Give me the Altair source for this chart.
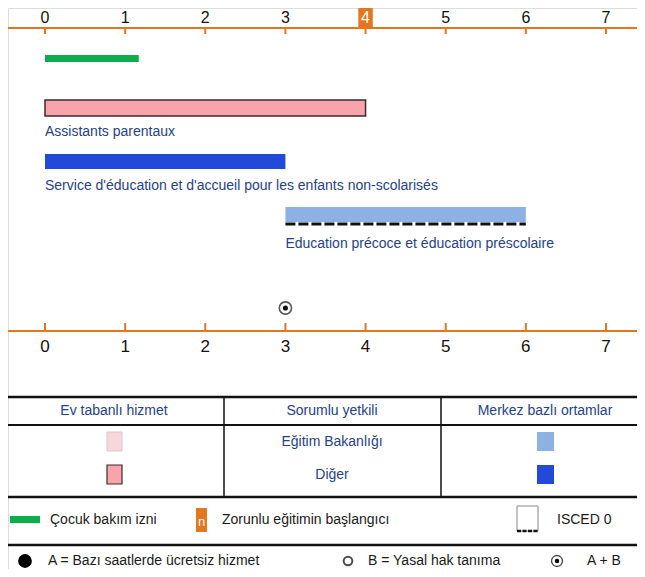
import altair as alt
import pandas as pd

# ---------------- data ----------------
ages = [0, 1, 2, 3, 4, 5, 6, 7]
compulsory_age = [4]

services = ["Çocuk bakım izni", "Assistants parentaux",
            "Service d'éducation et d'accueil pour les enfants non-scolarisés",
            "Education précoce et éducation préscolaire"]
svc_start = [0, 0, 0, 3]
svc_end = [1.17, 4, 3, 6]
svc_labelled = [False, True, True, True]
isced0_start = [3]
isced0_end = [6]
free_marker_age = [3]

table_headers = ["Ev tabanlı hizmet", "Sorumlu yetkili", "Merkez bazlı ortamlar"]
authorities = ["Eğitim Bakanlığı", "Diğer"]
legend_row1 = ["Çocuk bakım izni", "Zorunlu eğitimin başlangıcı", "ISCED 0"]
legend_row2 = ["A = Bazı saatlerde ücretsiz hizmet", "B = Yasal hak tanıma", "A + B"]

# ---------------- layout / style ----------------
W, H = 629, 561
PPY = 80.14          # pixels per year
X0 = 37              # pixel of age 0
XDOM = [-X0 / PPY, (W - X0) / PPY]
FONT = "Liberation Sans"
ORANGE = "#e3761e"
NAVY = "#25428a"

svc_fill = ["#0bae4a", "#f9a3ab", "#2249d8", "#8db1e3"]
svc_stroke = ["#0bae4a", "#3a2d2d", "#2249d8", "#8db1e3"]
svc_sw = [0, 1.5, 0, 0]
svc_top = [47, 92, 146, 199]
svc_bot = [54, 108, 161, 214]
svc_label_y = [0, 124, 178, 236]

TOP_AXIS_Y, BOT_AXIS_Y = 20, 323
TOP_LABEL_Y, BOT_LABEL_Y = 10, 339

xs = alt.Scale(domain=XDOM, nice=False, zero=False)


def X(f):
    return alt.X(f, type="quantitative", scale=xs, axis=None)


def PX(f):
    return alt.X(f, type="quantitative", scale=None, axis=None)


def PY(f):
    return alt.Y(f, type="quantitative", scale=None, axis=None)


one = pd.DataFrame({"a": [0]})
layers = []

# ---- axes (top & bottom) ----
for ay, ly, tdir, fs in [(TOP_AXIS_Y, TOP_LABEL_Y, 6, 16), (BOT_AXIS_Y, BOT_LABEL_Y, -8, 17)]:
    layers.append(alt.Chart(one).mark_rule(color=ORANGE, strokeWidth=2).encode(
        x=alt.value(0), x2=alt.value(W), y=alt.value(ay)))
    tdf = pd.DataFrame({"age": ages})
    layers.append(alt.Chart(tdf).mark_rule(color=ORANGE, strokeWidth=2).encode(
        x=X("age"), y=alt.value(ay), y2=alt.value(ay + tdir)))
    layers.append(alt.Chart(tdf).mark_text(font=FONT, fontSize=fs, color="#111111",
                                            baseline="middle", align="center").encode(
        x=X("age"), y=alt.value(ly), text=alt.Text("age:Q")))

# compulsory education highlight on top axis
cdf = pd.DataFrame({"age": compulsory_age})
layers.append(alt.Chart(cdf).transform_calculate(a0="datum.age - 0.09", a1="datum.age + 0.09").mark_rect(
    color=ORANGE).encode(x=X("a0"), x2=alt.X2("a1"), y=alt.value(0), y2=alt.value(TOP_AXIS_Y + 1)))
layers.append(alt.Chart(cdf).mark_text(font=FONT, fontSize=16, color="white",
                                        baseline="middle", align="center").encode(
    x=X("age"), y=alt.value(TOP_LABEL_Y), text=alt.Text("age:Q")))

# ---- service bars ----
sdf = pd.DataFrame({"name": services, "s": svc_start, "e": svc_end, "fill": svc_fill,
                    "stroke": svc_stroke, "sw": svc_sw, "top": svc_top, "bot": svc_bot,
                    "ly": svc_label_y, "lab": svc_labelled})
layers.append(alt.Chart(sdf).mark_rect().encode(
    x=X("s"), x2=alt.X2("e"), y=PY("top"), y2=alt.Y2("bot"),
    fill=alt.Color("fill:N", scale=None), stroke=alt.Color("stroke:N", scale=None),
    strokeWidth=alt.StrokeWidth("sw:Q", scale=None)))
layers.append(alt.Chart(sdf).transform_filter("datum.lab").mark_text(
    font=FONT, fontSize=14, color=NAVY, align="left", baseline="middle").encode(
    x=X("s"), y=PY("ly"), text="name:N"))

# ISCED 0 dashed line
idf = pd.DataFrame({"s": isced0_start, "e": isced0_end})
layers.append(alt.Chart(idf).mark_rule(color="#111111", strokeWidth=3, strokeDash=[10, 3]).encode(
    x=X("s"), x2=alt.X2("e"), y=alt.value(216)))

# free access marker A+B
mdf = pd.DataFrame({"age": free_marker_age})
layers.append(alt.Chart(mdf).mark_point(shape="circle", filled=False, color="#111111",
                                         strokeWidth=1.6, size=150).encode(
    x=X("age"), y=alt.value(300)))
layers.append(alt.Chart(mdf).mark_point(shape="circle", filled=True, color="#111111",
                                         opacity=1, size=26).encode(
    x=X("age"), y=alt.value(300)))

# ---------------- legend table ----------------
hlines = pd.DataFrame({"y": [389, 417, 489, 537], "w": [2.5, 2, 2.5, 2.5]})
layers.append(alt.Chart(hlines).mark_rule(color="#111111").encode(
    x=alt.value(0), x2=alt.value(W), y=PY("y"), strokeWidth=alt.StrokeWidth("w:Q", scale=None)))
layers.append(alt.Chart(one).mark_rule(color="#999999", strokeWidth=1.5).encode(
    x=alt.value(0), x2=alt.value(W), y=alt.value(566)))
vlines = pd.DataFrame({"x": [216, 433]})
layers.append(alt.Chart(vlines).mark_rule(color="#111111", strokeWidth=1.5).encode(
    x=PX("x"), y=alt.value(389), y2=alt.value(489)))

hdf = pd.DataFrame({"t": table_headers, "x": [106, 324, 537]})
layers.append(alt.Chart(hdf).mark_text(font=FONT, fontSize=14, color=NAVY, baseline="middle").encode(
    x=PX("x"), y=alt.value(403), text="t:N"))

adf = pd.DataFrame({"t": authorities, "y": [434, 467]})
layers.append(alt.Chart(adf).mark_text(font=FONT, fontSize=14, color=NAVY, baseline="middle").encode(
    x=alt.value(324), y=PY("y"), text="t:N"))

swatch = pd.DataFrame({
    "x0": [99, 99, 529, 529], "x1": [114, 114, 546, 546],
    "y0": [424, 457, 424, 457], "y1": [443, 476, 443, 476],
    "fill": ["#f8d7dc", "#f9a3ab", "#8db1e3", "#2249d8"],
    "stroke": ["#d9c9cb", "#3a2d2d", "#8db1e3", "#2249d8"],
    "sw": [1, 1.2, 0, 0]})
layers.append(alt.Chart(swatch).mark_rect().encode(
    x=PX("x0"), x2=alt.X2("x1"), y=PY("y0"), y2=alt.Y2("y1"),
    fill=alt.Color("fill:N", scale=None), stroke=alt.Color("stroke:N", scale=None),
    strokeWidth=alt.StrokeWidth("sw:Q", scale=None)))

# legend row 1
layers.append(alt.Chart(one).mark_rect(color="#0bae4a").encode(
    x=alt.value(2), x2=alt.value(32), y=alt.value(508), y2=alt.value(515)))
layers.append(alt.Chart(one).mark_rect(color=ORANGE).encode(
    x=alt.value(188), x2=alt.value(199), y=alt.value(500), y2=alt.value(524)))
layers.append(alt.Chart(pd.DataFrame({"t": ["n"]})).mark_text(
    font=FONT, fontSize=13, color="white", baseline="middle", align="center").encode(
    x=alt.value(193.5), y=alt.value(514), text="t:N"))
# ISCED box
layers.append(alt.Chart(one).mark_rect(fill="white", stroke="#888888", strokeWidth=1).encode(
    x=alt.value(509), x2=alt.value(530), y=alt.value(498), y2=alt.value(523)))
layers.append(alt.Chart(one).mark_rule(color="#111111", strokeWidth=2.5, strokeDash=[4, 1.5]).encode(
    x=alt.value(509), x2=alt.value(531), y=alt.value(523)))
l1 = pd.DataFrame({"t": legend_row1, "x": [42, 214, 549]})
layers.append(alt.Chart(l1).mark_text(font=FONT, fontSize=14, color="#1a1a1a", align="left",
                                       baseline="middle").encode(
    x=PX("x"), y=alt.value(512), text="t:N"))

# legend row 2
layers.append(alt.Chart(one).mark_point(shape="circle", filled=True, color="#000000",
                                        opacity=1, size=190).encode(
    x=alt.value(17), y=alt.value(553)))
layers.append(alt.Chart(one).mark_point(shape="circle", filled=False, color="#000000",
                                        strokeWidth=2, size=75).encode(
    x=alt.value(340), y=alt.value(553)))
layers.append(alt.Chart(one).mark_point(shape="circle", filled=False, color="#000000",
                                        strokeWidth=1.4, size=120).encode(
    x=alt.value(549), y=alt.value(553)))
layers.append(alt.Chart(one).mark_point(shape="circle", filled=True, color="#000000",
                                        opacity=1, size=20).encode(
    x=alt.value(549), y=alt.value(553)))
l2 = pd.DataFrame({"t": legend_row2, "x": [40, 360, 579]})
layers.append(alt.Chart(l2).mark_text(font=FONT, fontSize=14, color="#1a1a1a", align="left",
                                       baseline="middle").encode(
    x=PX("x"), y=alt.value(553), text="t:N"))

chart = alt.layer(*layers).resolve_scale(x="independent", y="independent").properties(
    width=W, height=H, padding=0, autosize=alt.AutoSizeParams(type="none")
).configure_view(stroke=None).configure(background="white")

chart.save("out.html", embed_options={"renderer": "svg", "actions": False})
